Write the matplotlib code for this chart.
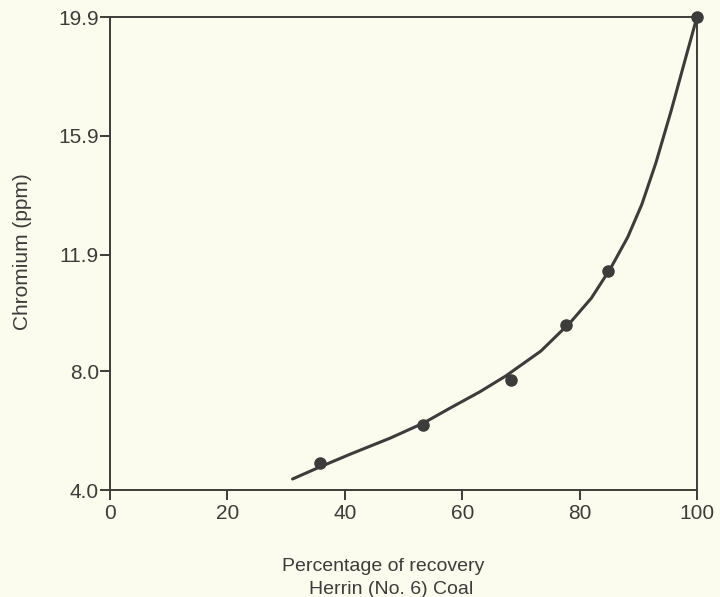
import numpy as np
import matplotlib.pyplot as plt

# Measured samples (Herrin No. 6 coal)
recovery = [35.7, 53.4, 68.3, 77.6, 84.8, 100.0]
chromium = [4.91, 6.18, 7.70, 9.55, 11.36, 19.9]

# Hand-drawn trend curve
curve_x = [31.1, 35.7, 41.0, 47.8, 53.4, 58.0, 63.0, 67.4, 73.4, 78.5, 82.0,
           85.3, 88.2, 90.6, 93.0, 95.6, 98.1, 100.0]
curve_y = [4.37, 4.77, 5.21, 5.75, 6.25, 6.76, 7.30, 7.83, 8.67, 9.65, 10.45,
           11.46, 12.50, 13.60, 15.00, 16.75, 18.55, 19.9]

xticks = [0, 20, 40, 60, 80, 100]
yticks = [4.0, 8.0, 11.9, 15.9, 19.9]
ytick_labels = ["4.0", "8.0", "11.9", "15.9", "19.9"]

ink = "#3c3c3a"
paper = "#fbfcee"

plt.rcParams['font.family'] = ['Liberation Sans', 'DejaVu Sans']

W, H = 720, 597
fig = plt.figure(figsize=(W / 100, H / 100), dpi=100, facecolor=paper)
ax = fig.add_axes([110 / W, (H - 490) / H, (697 - 110) / W, (490 - 17) / H])
ax.set_facecolor(paper)

ax.plot(curve_x, curve_y, color=ink, lw=2.2, solid_capstyle='round',
        solid_joinstyle='round')
ax.plot(recovery, chromium, 'o', color=ink, ms=8, clip_on=False)

ax.set_xlim(0, 100)
ax.set_ylim(4.0, 19.9)
ax.set_xticks(xticks)
ax.set_yticks(yticks)
ax.set_yticklabels(ytick_labels)

for s in ax.spines.values():
    s.set_color(ink)
    s.set_linewidth(1.4)

ax.tick_params(axis='x', direction='out', length=7, width=1.4, color=ink,
               labelsize=15, labelcolor=ink, pad=3)
ax.tick_params(axis='y', direction='out', length=7, width=1.4, color=ink,
               labelsize=15, labelcolor=ink, pad=1)

# axis titles placed by pixel position
fig.text(383 / W, (H - 571) / H, "Percentage of recovery", ha='center',
         va='baseline', fontsize=14, color=ink)
fig.text(391 / W, (H - 594) / H, "Herrin (No. 6) Coal", ha='center',
         va='baseline', fontsize=14, color=ink)
fig.text(23 / W, (H - 252) / H, "Chromium (ppm)", ha='center', va='center',
         rotation=90, fontsize=15, color=ink)

fig.savefig('out.png', dpi=100, facecolor=paper)
